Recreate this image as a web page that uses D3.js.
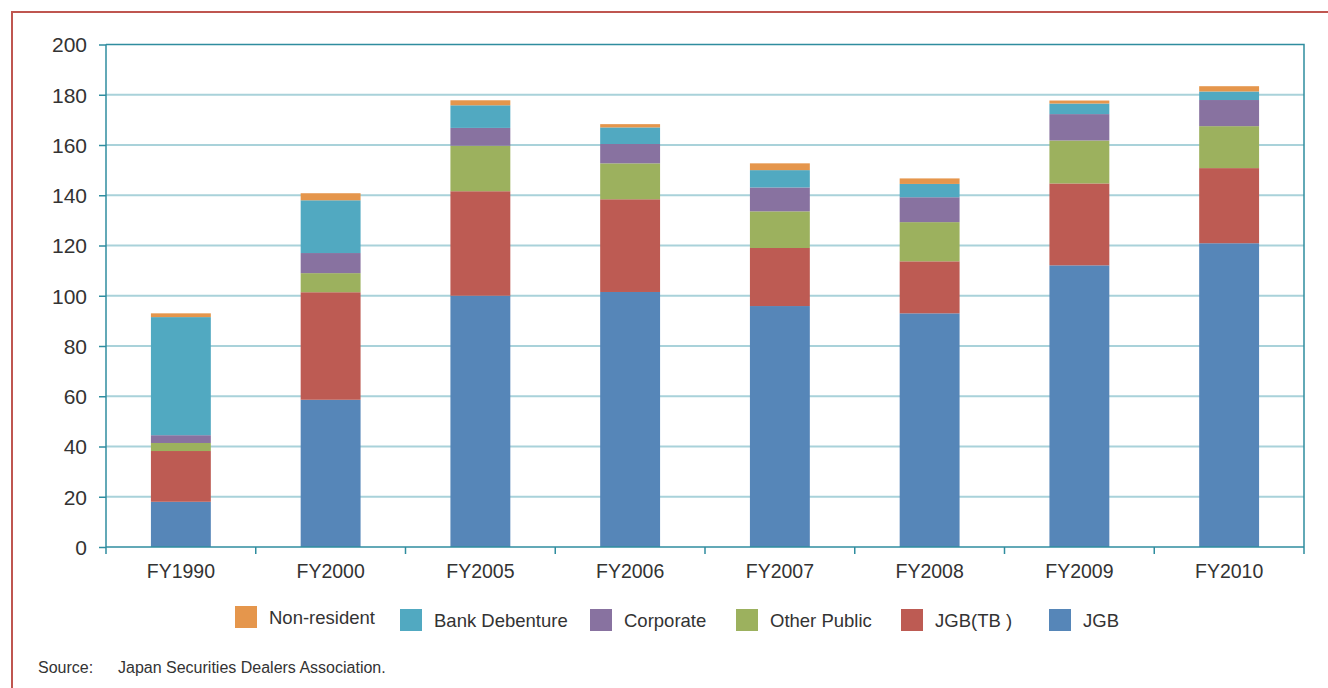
<!DOCTYPE html>
<html>
<head>
<meta charset="utf-8">
<script src="https://cdn.jsdelivr.net/npm/d3@7"></script>
<style>
  body { margin: 0; background: #fff; }
  text { font-family: "Liberation Sans", Arial, sans-serif; fill: #333; }
</style>
</head>
<body>
<div id="chart"></div>
<script>
var years = ["FY1990", "FY2000", "FY2005", "FY2006", "FY2007", "FY2008", "FY2009", "FY2010"];
var seriesNames = ["JGB", "JGB(TB )", "Other Public", "Corporate", "Bank Debenture", "Non-resident"];
var jgb        = [18.0, 58.6, 100.0, 101.5, 95.9, 93.0, 112.1, 120.9];
var jgbTB      = [20.2, 42.8, 41.6, 36.9, 23.1, 20.7, 32.6, 29.9];
var otherPub   = [3.2, 7.6, 18.1, 14.3, 14.6, 15.6, 17.1, 16.7];
var corporate  = [3.1, 8.0, 7.1, 7.7, 9.5, 9.9, 10.5, 10.4];
var bankDeb    = [47.0, 21.0, 9.0, 6.6, 6.9, 5.3, 4.2, 3.4];
var nonRes     = [1.5, 2.8, 2.0, 1.3, 2.7, 2.2, 1.2, 2.1];
var yTicks = [0, 20, 40, 60, 80, 100, 120, 140, 160, 180, 200];
var legendOrder = ["Non-resident", "Bank Debenture", "Corporate", "Other Public", "JGB(TB )", "JGB"];

function init() {
    var w = 1328, h = 688;
    var margin = { top: 44.5, left: 106, right: 24, bottom: 141 };
    var width = w - margin.left - margin.right;
    var height = h - margin.top - margin.bottom;

    var colors = {
        "JGB": "#5686b8",
        "JGB(TB )": "#bd5b53",
        "Other Public": "#9cb15e",
        "Corporate": "#8872a0",
        "Bank Debenture": "#51a9c1",
        "Non-resident": "#e5964c"
    };

    var values = [jgb, jgbTB, otherPub, corporate, bankDeb, nonRes];
    var table = years.map(function(y, i) {
        var row = { year: y };
        seriesNames.forEach(function(s, j) { row[s] = values[j][i]; });
        return row;
    });

    var stacked = d3.stack().keys(seriesNames)(table);

    var svg = d3.select("#chart").append("svg")
        .attr("width", w)
        .attr("height", h);

    // outer frame
    svg.append("rect")
        .attr("x", 12).attr("y", 12)
        .attr("width", w + 20).attr("height", h + 20)
        .attr("fill", "none")
        .attr("stroke", "#bf5650")
        .attr("stroke-width", 2);

    var g = svg.append("g")
        .attr("transform", "translate(" + margin.left + "," + margin.top + ")");

    var x = d3.scaleBand().domain(years).range([0, width]).paddingInner(0.6).paddingOuter(0.3);
    var xTicks = d3.scaleBand().domain(years).range([0, width]);
    var y = d3.scaleLinear().domain([0, 200]).range([height, 0]);

    // gridlines
    g.selectAll(".grid").data(yTicks.slice(1, -1)).enter().append("line")
        .attr("x1", 0).attr("x2", width)
        .attr("y1", function(d) { return y(d); })
        .attr("y2", function(d) { return y(d); })
        .attr("stroke", "#a9d2da")
        .attr("stroke-width", 2);

    // bars
    g.selectAll(".series").data(stacked).enter().append("g")
        .attr("fill", function(d) { return colors[d.key]; })
        .selectAll("rect").data(function(d) { return d; }).enter().append("rect")
        .attr("x", function(d) { return x(d.data.year); })
        .attr("width", x.bandwidth())
        .attr("y", function(d) { return y(d[1]); })
        .attr("height", function(d) { return y(d[0]) - y(d[1]); });

    // plot frame top/right
    g.append("path")
        .attr("d", "M0," + y(200) + "H" + width + "V" + (height + 7))
        .attr("fill", "none")
        .attr("stroke", "#2f8d9f")
        .attr("stroke-width", 1.5);

    // y axis
    var yAxis = d3.axisLeft(y).tickValues(yTicks).tickSize(7).tickPadding(12);
    var ya = g.append("g").attr("class", "y axis").call(yAxis);
    ya.select(".domain").attr("stroke", "#2f8d9f").attr("stroke-width", 1.5)
        .attr("d", "M0," + (height + 7) + "V" + y(200));
    ya.selectAll(".tick line").attr("stroke", "#2f8d9f").attr("stroke-width", 1.5);
    ya.selectAll("text").style("font-size", "21px").attr("fill", "#333").attr("dy", "0.35em");

    // x axis
    var xAxis = d3.axisBottom(xTicks).tickSize(0).tickPadding(17);
    var xa = g.append("g").attr("class", "x axis")
        .attr("transform", "translate(0," + height + ")")
        .call(xAxis);
    xa.select(".domain").attr("stroke", "#2f8d9f").attr("stroke-width", 1.5).attr("d", "M0,0H" + width);
    xa.selectAll("text").style("font-size", "19.5px").attr("fill", "#333");
    xa.selectAll(".sep").data(years.slice(1)).enter().append("line")
        .attr("x1", function(d) { return xTicks(d); })
        .attr("x2", function(d) { return xTicks(d); })
        .attr("y1", 0).attr("y2", 7)
        .attr("stroke", "#2f8d9f").attr("stroke-width", 1.5);

    // legend
    var legendX = [235, 400, 590, 736, 901, 1049];
    var lg = svg.selectAll(".legend").data(legendOrder).enter().append("g")
        .attr("transform", function(d, i) { return "translate(" + legendX[i] + "," + (i === 0 ? 606 : 609) + ")"; });
    lg.append("rect")
        .attr("width", 22).attr("height", 22)
        .attr("fill", function(d) { return colors[d]; });
    lg.append("text")
        .attr("x", 34).attr("y", 18)
        .style("font-size", "18.5px")
        .text(function(d) { return d; });

    // source
    svg.append("text").attr("x", 38).attr("y", 673).style("font-size", "16px").text("Source:");
    svg.append("text").attr("x", 118).attr("y", 673).style("font-size", "16px")
        .text("Japan Securities Dealers Association.");
}

window.onload = init;
</script>
</body>
</html>
